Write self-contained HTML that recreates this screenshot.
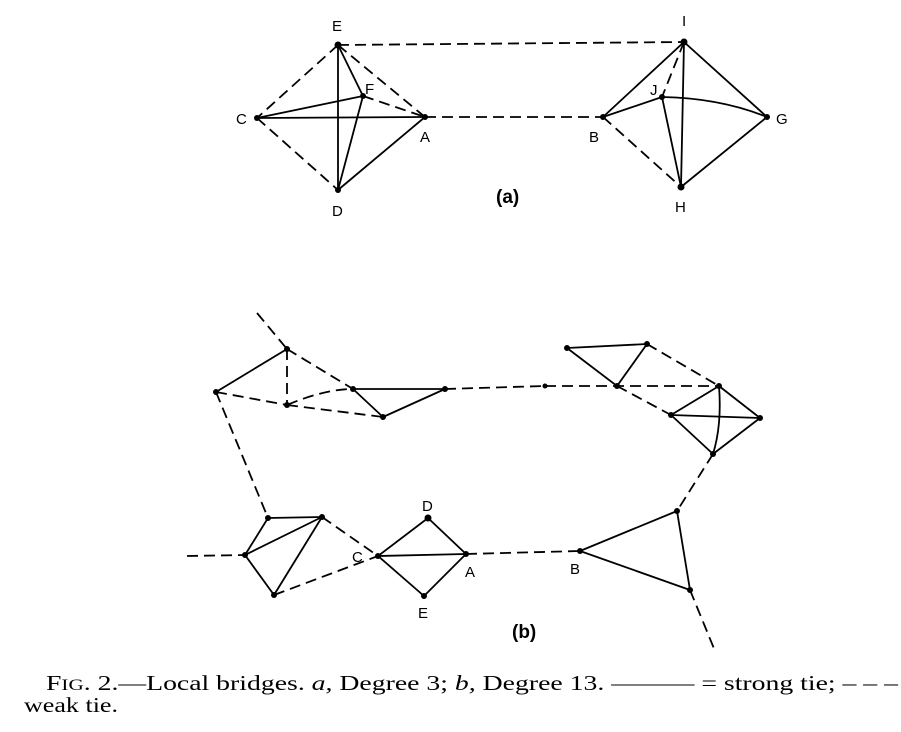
<!DOCTYPE html>
<html><head><meta charset="utf-8"><style>
html,body{margin:0;padding:0;background:#fff;}
svg{display:block;}
</style></head><body>
<svg width="901" height="732" viewBox="0 0 901 732" xmlns="http://www.w3.org/2000/svg">
<g stroke="#000" stroke-width="1.8" fill="none" stroke-linecap="butt">
<g>
<line x1="338" y1="45" x2="363" y2="96"/>
<line x1="338" y1="45" x2="338" y2="190"/>
<line x1="257" y1="118" x2="363" y2="96"/>
<line x1="257" y1="118" x2="425" y2="117"/>
<line x1="363" y1="96" x2="338" y2="190"/>
<line x1="338" y1="190" x2="425" y2="117"/>
<line x1="684" y1="42" x2="603" y2="117"/>
<line x1="684" y1="42" x2="681" y2="187"/>
<line x1="684" y1="42" x2="767" y2="117"/>
<line x1="603" y1="117" x2="662" y2="97"/>
<path d="M662 97 Q720 98 767 117"/>
<line x1="662" y1="97" x2="681" y2="187"/>
<line x1="681" y1="187" x2="767" y2="117"/>
</g>
<g stroke-dasharray="11,6">
<line x1="338" y1="45" x2="257" y2="118"/>
<line x1="338" y1="45" x2="425" y2="117"/>
<line x1="257" y1="118" x2="338" y2="190"/>
<line x1="363" y1="96" x2="425" y2="117"/>
<line x1="338" y1="45" x2="684" y2="42"/>
<line x1="425" y1="117" x2="603" y2="117"/>
<line x1="684" y1="42" x2="662" y2="97"/>
<line x1="603" y1="117" x2="681" y2="187"/>
</g>
<g>
<line x1="287" y1="349" x2="216" y2="392"/>
<line x1="353" y1="389" x2="445" y2="389"/>
<line x1="353" y1="389" x2="383" y2="417"/>
<line x1="383" y1="417" x2="445" y2="389"/>
<line x1="567" y1="348" x2="647" y2="344"/>
<line x1="567" y1="348" x2="617" y2="386"/>
<line x1="647" y1="344" x2="617" y2="386"/>
<line x1="719" y1="386" x2="671" y2="415"/>
<line x1="719" y1="386" x2="760" y2="418"/>
<path d="M719 386 Q722 425 713 454"/>
<line x1="671" y1="415" x2="760" y2="418"/>
<line x1="671" y1="415" x2="713" y2="454"/>
<line x1="760" y1="418" x2="713" y2="454"/>
<line x1="677" y1="511" x2="580" y2="551"/>
<line x1="580" y1="551" x2="690" y2="590"/>
<line x1="677" y1="511" x2="690" y2="590"/>
<line x1="378" y1="556" x2="428" y2="518"/>
<line x1="428" y1="518" x2="466" y2="554"/>
<line x1="378" y1="556" x2="466" y2="554"/>
<line x1="378" y1="556" x2="424" y2="596"/>
<line x1="424" y1="596" x2="466" y2="554"/>
<line x1="268" y1="518" x2="322" y2="517"/>
<line x1="268" y1="518" x2="245" y2="555"/>
<line x1="322" y1="517" x2="245" y2="555"/>
<line x1="322" y1="517" x2="274" y2="595"/>
<line x1="245" y1="555" x2="274" y2="595"/>
</g>
<g stroke-dasharray="11,6">
<line x1="257" y1="313" x2="287" y2="349"/>
<line x1="287" y1="349" x2="287" y2="405"/>
<line x1="287" y1="349" x2="353" y2="389"/>
<line x1="216" y1="392" x2="287" y2="405"/>
<line x1="287" y1="405" x2="383" y2="417"/>
<path d="M287 405 Q325 389 353 389"/>
<line x1="445" y1="389" x2="545" y2="386"/>
<line x1="545" y1="386" x2="719" y2="386"/>
<line x1="647" y1="344" x2="719" y2="386"/>
<line x1="617" y1="386" x2="671" y2="415"/>
<line x1="713" y1="454" x2="677" y2="511"/>
<line x1="690" y1="590" x2="715" y2="651"/>
<line x1="466" y1="554" x2="580" y2="551"/>
<line x1="216" y1="392" x2="268" y2="518"/>
<line x1="322" y1="517" x2="378" y2="556"/>
<line x1="274" y1="595" x2="378" y2="556"/>
<line x1="187" y1="556" x2="245" y2="555"/>
</g>
</g>
<g fill="#000">
<circle cx="338" cy="45" r="3.5"/><circle cx="363" cy="96" r="3"/><circle cx="257" cy="118" r="3"/><circle cx="425" cy="117" r="3"/><circle cx="338" cy="190" r="3"/>
<circle cx="684" cy="42" r="3.5"/><circle cx="662" cy="97" r="3"/><circle cx="603" cy="117" r="3"/><circle cx="767" cy="117" r="3"/><circle cx="681" cy="187" r="3.5"/>
<circle cx="287" cy="349" r="3"/><circle cx="216" cy="392" r="3"/><circle cx="287" cy="405" r="3"/><circle cx="353" cy="389" r="3"/><circle cx="445" cy="389" r="3"/><circle cx="383" cy="417" r="3"/><circle cx="545" cy="386" r="2.5"/>
<circle cx="567" cy="348" r="3"/><circle cx="647" cy="344" r="3"/><circle cx="617" cy="386" r="3"/><circle cx="719" cy="386" r="3"/><circle cx="671" cy="415" r="3"/><circle cx="760" cy="418" r="3"/><circle cx="713" cy="454" r="3"/>
<circle cx="677" cy="511" r="3"/><circle cx="580" cy="551" r="3"/><circle cx="690" cy="590" r="3"/>
<circle cx="378" cy="556" r="3"/><circle cx="428" cy="518" r="3.5"/><circle cx="466" cy="554" r="3"/><circle cx="424" cy="596" r="3"/>
<circle cx="268" cy="518" r="3"/><circle cx="322" cy="517" r="3"/><circle cx="245" cy="555" r="3"/><circle cx="274" cy="595" r="3"/>
</g>
<g font-family="Liberation Sans, sans-serif" font-size="15" fill="#000">
<text x="332" y="31">E</text><text x="365" y="94">F</text><text x="236" y="124">C</text><text x="420" y="142">A</text><text x="332" y="216">D</text>
<text x="682" y="26">I</text><text x="650" y="95">J</text><text x="589" y="142">B</text><text x="776" y="124">G</text><text x="675" y="212">H</text>
<text x="496" y="203" font-size="19" font-weight="bold">(a)</text>
<text x="352" y="562">C</text><text x="422" y="511">D</text><text x="465" y="577">A</text><text x="418" y="618">E</text><text x="570" y="574">B</text>
<text x="512" y="638" font-size="19" font-weight="bold">(b)</text>
</g>
<g font-family="Liberation Serif, serif" font-size="21" fill="#000">
<text x="46" y="690" textLength="852" lengthAdjust="spacingAndGlyphs">F<tspan font-size="16">IG</tspan>. 2.—Local bridges. <tspan font-style="italic">a,</tspan> Degree 3; <tspan font-style="italic">b,</tspan> Degree 13. ——— = strong tie; – – –</text>
<text x="24" y="712" textLength="94" lengthAdjust="spacingAndGlyphs">weak tie.</text>
</g>
</svg>
</body></html>
